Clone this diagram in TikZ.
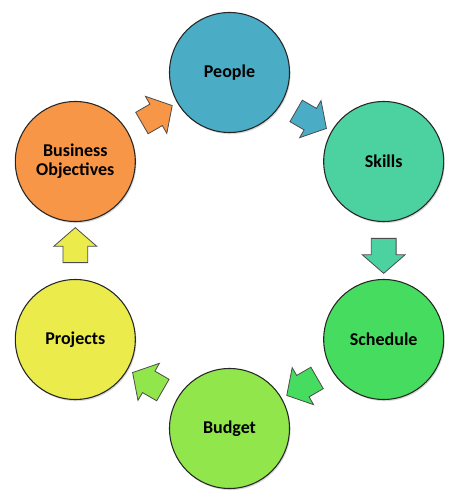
\documentclass[tikz,border=0pt]{standalone}
\usepackage{fontspec}
\setmainfont{Carlito}
\usetikzlibrary{shapes.arrows,shadows,calc}
\definecolor{peopleblue}{RGB}{75,172,198}
\definecolor{skillsteal}{RGB}{76,210,160}
\definecolor{schedulegreen}{RGB}{70,220,95}
\definecolor{budgetlime}{RGB}{145,230,75}
\definecolor{projectsyellow}{RGB}{235,235,75}
\definecolor{objectivesorange}{RGB}{247,150,70}

\begin{document}
\begin{tikzpicture}[x=0.75pt,y=0.75pt,
    ball/.style={circle,draw=black!85,line width=0.8pt,minimum size=90pt,inner sep=0pt,
      font=\fontsize{13.5}{14.5}\selectfont\bfseries,align=center,
      drop shadow={shadow xshift=0.8pt,shadow yshift=-1.2pt,opacity=0.3}},
    flow/.style={single arrow,draw=black!70,line width=0.6pt,inner xsep=0pt,inner ysep=9pt,
      minimum height=26.25pt,single arrow head extend=6.75pt,single arrow tip angle=98},
    gloss/.style={white,opacity=0.8,line width=1.8pt,line cap=round}]
  \useasboundingbox (0,0) rectangle (458,500);

  % the six stages
  \node[ball,fill=peopleblue] (people) at (229.5,427.5) {People};
  \node[ball,fill=skillsteal] (skills) at (383.7,338.5) {Skills};
  \node[ball,fill=schedulegreen] (schedule) at (383.7,160.5) {Schedule};
  \node[ball,fill=budgetlime] (budget) at (229.5,71.5) {Budget};
  \node[ball,fill=projectsyellow] (projects) at (75.3,160.5) {Projects};
  \node[ball,fill=objectivesorange] (objectives) at (75.3,338.5) {Business\\Objectives};

  % shine on the balls
  \foreach \n in {people,skills,schedule,budget,projects,objectives}{
    \draw[gloss] ($(\n.center)+(105:52.5pt)$) arc[start angle=105,end angle=215,radius=52.5pt];
    \draw[gloss] ($(\n.center)+(-60:52.5pt)$) arc[start angle=-60,end angle=15,radius=52.5pt];
  }

  % block arrows between stages
  \node[flow,fill=objectivesorange,rotate=30] (a1) at ($(objectives)!0.5!(people)$) {};
  \node[flow,fill=peopleblue,rotate=-30] (a2) at ($(people)!0.5!(skills)$) {};
  \node[flow,fill=skillsteal,rotate=-90] (a3) at ($(skills)!0.5!(schedule)$) {};
  \node[flow,fill=schedulegreen,rotate=210] (a4) at ($(schedule)!0.5!(budget)$) {};
  \node[flow,fill=budgetlime,rotate=150] (a5) at ($(budget)!0.5!(projects)$) {};
  \node[flow,fill=projectsyellow,rotate=90] (a6) at ($(projects)!0.5!(objectives)$) {};
\end{tikzpicture}
\end{document}
